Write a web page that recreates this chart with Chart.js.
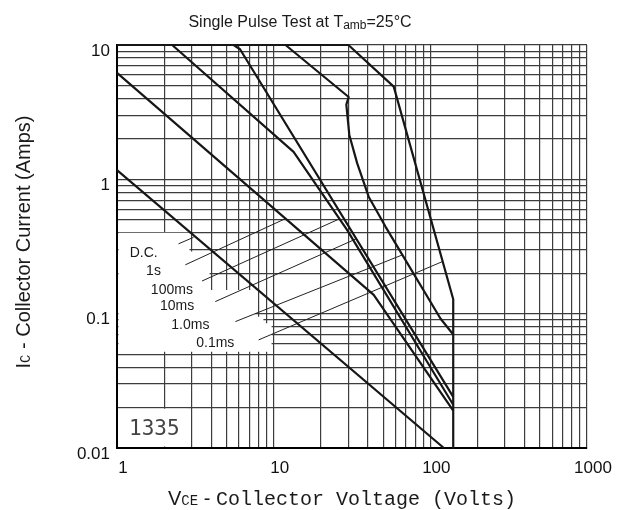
<!DOCTYPE html>
<html>
<head>
<meta charset="utf-8">
<script src="https://cdn.jsdelivr.net/npm/chart.js@4.4.1/dist/chart.umd.min.js"></script>
<style>
    html, body { margin: 0; padding: 0; background: #fff; }
    #wrap { width: 627px; height: 510px; }
</style>
</head>
<body>
<div id="wrap"><canvas id="soa" width="627" height="510"></canvas></div>
<script>
// ==================== 网格刻度 ====================
const xGridTicks = [1, 2, 3, 4, 5, 6, 7, 8, 9, 10, 20, 30, 40, 50, 60, 70, 80, 90,
    100, 200, 300, 400, 500, 600, 700, 800, 900, 1000]
const yGridTicks = [0.01, 0.02, 0.03, 0.04, 0.05, 0.06, 0.07, 0.08, 0.09,
    0.1, 0.2, 0.3, 0.4, 0.5, 0.6, 0.7, 0.8, 0.9, 1, 2, 3, 4, 5, 6, 7, 8, 9, 10]
const xTickLabels = [1, 10, 100, 1000]
const yTickLabels = [0.01, 0.1, 1, 10]

// ==================== 安全工作区曲线 (V, A) ====================
const dcV = [1, 122]
const dcI = [1.17, 0.01]
const s1V = [1, 43.5, 140]
const s1I = [6.2, 0.138, 0.019]
const ms100V = [2.25, 13.4, 29.4, 140]
const ms100I = [10, 1.6, 0.42, 0.021]
const ms10V = [5.55, 6.1, 140]
const ms10I = [10, 9.3, 0.024]
const ms1V = [11.9, 30.1, 29.1, 30.4, 34.1, 40.4, 51.7, 116, 140]
const ms1I = [10, 4.1, 3.6, 2.14, 1.32, 0.743, 0.445, 0.092, 0.07]
const ms01V = [1, 30, 58.4, 140, 140]
const ms01I = [10, 10, 4.9, 0.128, 0.01]

// ==================== 标注引线 ====================
const curveLabels = ['D.C.', '1s', '100ms', '10ms', '1.0ms', '0.1ms']
const labelV = [1.48, 1.71, 2.24, 2.42, 2.94, 4.24]
const labelI = [0.282, 0.206, 0.150, 0.114, 0.0826, 0.0603]
const leadStartV = [2.47, 2.73, 3.49, 4.24, 5.70, 8.02]
const leadStartI = [0.331, 0.231, 0.175, 0.123, 0.0873, 0.0638]
const leadEndV = [3.08, 11.9, 26.3, 33.7, 66.4, 119.8]
const leadEndI = [0.37, 0.51, 0.508, 0.361, 0.274, 0.2445]

// 标注区域的白底（遮住网格）
const maskV = [1, 2.9, 2.9, 3.9, 3.9, 7.6, 7.6, 8.6, 8.6, 9.7, 9.7, 1]
const maskI = [0.4, 0.4, 0.29, 0.29, 0.15, 0.15, 0.095, 0.095, 0.085, 0.085, 0.052, 0.052]
const boxV = [1, 2.8, 2.8, 1]
const boxI = [0.0196, 0.0196, 0.01, 0.01]
const codeText = '1335'
const codeV = 1.73
const codeI = 0.0137

const series = (vs, is) => vs.map((v, k) => ({ x: v, y: is[k] }))

const curve = (vs, is) => ({
    data: series(vs, is),
    showLine: true,
    borderColor: '#161616',
    borderWidth: 2.2,
    borderJoinStyle: 'round',
    pointRadius: 0,
    fill: false,
    clip: 6
})

const leader = (k) => ({
    data: series([leadStartV[k], leadEndV[k]], [leadStartI[k], leadEndI[k]]),
    showLine: true,
    borderColor: '#222',
    borderWidth: 1,
    pointRadius: 0,
    fill: false
})

// ==================== 文字工具 ====================
const SANS = '"Liberation Sans", Arial, sans-serif'
const MONO = '"Liberation Mono", "DejaVu Sans Mono", monospace'

function drawRuns(ctx, runs, cx, baseY) {
    let total = 0
    runs.forEach(r => { ctx.font = r.font; r.w = ctx.measureText(r.text).width; total += r.w })
    let x = cx - total / 2
    runs.forEach(r => {
        ctx.font = r.font
        ctx.textAlign = 'left'
        ctx.textBaseline = 'alphabetic'
        ctx.fillText(r.text, x, baseY + (r.dy || 0))
        x += r.w
    })
}

const polyPath = (ctx, xs, ys, vs, is) => {
    ctx.beginPath()
    vs.forEach((v, k) => {
        const px = xs.getPixelForValue(v)
        const py = ys.getPixelForValue(is[k])
        k ? ctx.lineTo(px, py) : ctx.moveTo(px, py)
    })
    ctx.closePath()
}

const soaPlugin = {
    id: 'soaDecor',
    beforeDatasetsDraw(chart) {
        const { ctx, chartArea: a, scales: { x, y } } = chart
        ctx.save()
        ctx.beginPath()
        ctx.rect(a.left + 1.5, a.top, a.right - a.left, a.bottom - a.top - 1.5)
        ctx.clip()
        ctx.fillStyle = '#fff'
        polyPath(ctx, x, y, maskV, maskI)
        ctx.fill()
        polyPath(ctx, x, y, boxV, boxI)
        ctx.fill()
        ctx.restore()
    },
    afterDatasetsDraw(chart) {
        const { ctx, scales: { x, y } } = chart
        ctx.save()
        ctx.fillStyle = '#1a1a1a'
        ctx.font = '14px ' + SANS
        ctx.textAlign = 'center'
        ctx.textBaseline = 'middle'
        curveLabels.forEach((t, k) => {
            ctx.fillText(t, x.getPixelForValue(labelV[k]), y.getPixelForValue(labelI[k]))
        })
        ctx.font = '21px "DejaVu Sans Mono", monospace'
        ctx.fillStyle = '#444'
        ctx.fillText(codeText, x.getPixelForValue(codeV), y.getPixelForValue(codeI))
        ctx.restore()
    },
    afterDraw(chart) {
        const { ctx } = chart
        ctx.save()
        ctx.fillStyle = '#1a1a1a'
        // 标题
        drawRuns(ctx, [
            { text: 'Single Pulse Test at T', font: '16px ' + SANS },
            { text: 'amb', font: '12px ' + SANS, dy: 2 },
            { text: '=25°C', font: '16px ' + SANS }
        ], 300, 27)
        // X 轴标题
        drawRuns(ctx, [
            { text: 'V', font: '20px ' + SANS },
            { text: 'CE', font: '14px ' + MONO },
            { text: ' - ', font: '20px ' + SANS },
            { text: 'Collector Voltage (Volts)', font: '20px ' + MONO }
        ], 342, 505)
        // Y 轴标题
        ctx.translate(30, 242)
        ctx.rotate(-Math.PI / 2)
        drawRuns(ctx, [
            { text: 'I', font: '20px ' + SANS },
            { text: 'C', font: '14px ' + MONO },
            { text: ' - Collector Current (Amps)', font: '20px ' + SANS }
        ], 0, 0)
        ctx.restore()
    }
}

// ==================== 图表 ====================
const canvas = document.getElementById('soa')
new Chart(canvas, {
    type: 'scatter',
    data: {
        datasets: [
            curve(dcV, dcI),
            curve(s1V, s1I),
            curve(ms100V, ms100I),
            curve(ms10V, ms10I),
            curve(ms1V, ms1I),
            curve(ms01V, ms01I),
            ...curveLabels.map((_, k) => leader(k))
        ]
    },
    options: {
        responsive: false,
        devicePixelRatio: 1,
        animation: false,
        layout: { padding: { top: 45, right: 40, left: 0, bottom: 0 } },
        plugins: {
            legend: { display: false },
            tooltip: { enabled: false }
        },
        scales: {
            x: {
                type: 'logarithmic',
                min: 1,
                max: 1000,
                afterBuildTicks: (s) => { s.ticks = xGridTicks.map(v => ({ value: v })) },
                afterFit: (s) => { s.height = 62 },
                grid: { color: '#3c3c3c', lineWidth: 1.2, drawTicks: false },
                border: { color: '#000', width: 2 },
                ticks: {
                    autoSkip: false,
                    maxRotation: 0,
                    padding: 10,
                    labelOffset: 6,
                    color: '#111',
                    font: { family: SANS, size: 17 },
                    callback: (v) => xTickLabels.includes(v) ? String(v) : ''
                }
            },
            y: {
                type: 'logarithmic',
                min: 0.01,
                max: 10,
                afterBuildTicks: (s) => { s.ticks = yGridTicks.map(v => ({ value: v })) },
                afterFit: (s) => { s.width = 117 },
                grid: { color: '#3c3c3c', lineWidth: 1.2, drawTicks: false },
                border: { color: '#000', width: 2 },
                ticks: {
                    autoSkip: false,
                    padding: 7,
                    labelOffset: 6,
                    color: '#111',
                    font: { family: SANS, size: 17 },
                    callback: (v) => yTickLabels.includes(v) ? String(v) : ''
                }
            }
        }
    },
    plugins: [soaPlugin]
})
</script>
</body>
</html>
